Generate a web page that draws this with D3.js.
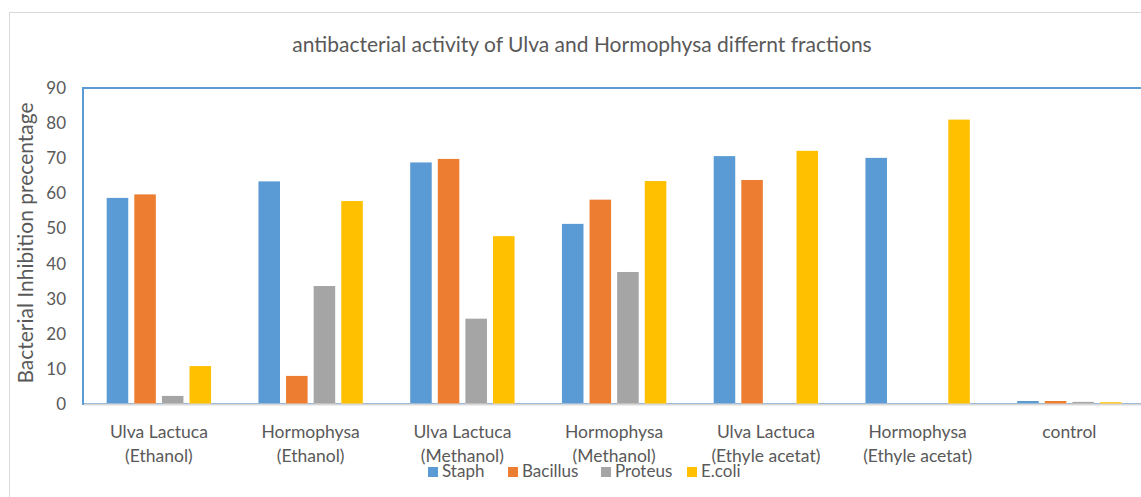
<!DOCTYPE html>
<html>
<head>
<meta charset="utf-8">
<script src="https://cdn.jsdelivr.net/npm/d3@7/dist/d3.min.js"></script>
<style>
  html, body { margin: 0; padding: 0; background: #fff; }
  svg { display: block; font-family: Lato, "Open Sans", sans-serif; }
</style>
</head>
<body>
<svg id="chart" width="1141" height="497"></svg>
<script>
const categories = [
  ["Ulva Lactuca", "(Ethanol)"],
  ["Hormophysa", "(Ethanol)"],
  ["Ulva Lactuca", "(Methanol)"],
  ["Hormophysa", "(Methanol)"],
  ["Ulva Lactuca", "(Ethyle acetat)"],
  ["Hormophysa", "(Ethyle acetat)"],
  ["control"]
];
const seriesNames = ["Staph", "Bacillus", "Proteus", "E.coli"];
const staph    = [58.7, 63.4, 68.8, 51.3, 70.6, 70.1, 0.85];
const bacillus = [59.7, 8.0, 69.8, 58.2, 63.8, 0, 0.85];
const proteus  = [2.3, 33.6, 24.3, 37.6, 0, 0, 0.6];
const ecoli    = [10.8, 57.8, 47.8, 63.5, 72.1, 81.0, 0.5];
const yTicks = [0, 10, 20, 30, 40, 50, 60, 70, 80, 90];
const colors = ["#5B9BD5", "#ED7D31", "#A5A5A5", "#FFC000"];
const titleText = "antibacterial activity of Ulva and Hormophysa differnt fractions";
const yTitle = "Bacterial Inhibition precentage";

const seriesValues = [staph, bacillus, proteus, ecoli];
const textColor = "#595959";
const svg = d3.select("#chart");

// outer chart border
svg.append("rect").attr("x", 9.5).attr("y", 12.5).attr("width", 1200).attr("height", 600)
  .attr("fill", "none").attr("stroke", "#d9d9d9").attr("stroke-width", 1);

const pLeft = 83, step = 151.75, pTop = 88, pBottom = 404;
const catIdx = categories.map((d, i) => i);
const x = d3.scaleBand().domain(catIdx).range([pLeft, pLeft + step * categories.length]).padding(0);
const groupPad = 23.7;
const x1 = d3.scaleBand().domain(seriesNames).range([groupPad, step - groupPad]).paddingInner(0.22).paddingOuter(0);
const y = d3.scaleLinear().domain([0, 90]).range([pBottom, pTop]);

// plot area border (blue)
svg.append("rect").attr("x", pLeft).attr("y", pTop).attr("width", step * categories.length).attr("height", pBottom - pTop)
  .attr("fill", "none").attr("stroke", "#5B9BD5").attr("stroke-width", 2);

// bars
seriesNames.forEach((s, si) => {
  svg.append("g").selectAll("rect").data(seriesValues[si]).join("rect")
    .attr("x", (d, i) => x(i) + x1(s))
    .attr("width", x1.bandwidth())
    .attr("y", d => y(d))
    .attr("height", d => pBottom - y(d))
    .attr("fill", colors[si]);
});

// x axis baseline
svg.append("line").attr("x1", pLeft + 1).attr("x2", pLeft + step * categories.length)
  .attr("y1", pBottom + 0.5).attr("y2", pBottom + 0.5).attr("stroke", "#d9d9d9").attr("stroke-width", 2);

// y axis
const yAxis = d3.axisLeft(y).tickValues(yTicks).tickSize(0).tickPadding(0);
const gy = svg.append("g").attr("transform", `translate(66,0)`).call(yAxis);
gy.select(".domain").remove();
gy.selectAll("text").attr("fill", textColor).style("font-size", "17px").style("font-family", "Lato, sans-serif");

// category labels
const xAxis = d3.axisBottom(x).tickSize(0).tickFormat(() => "");
const gx = svg.append("g").attr("transform", `translate(0,${pBottom})`).call(xAxis);
gx.select(".domain").remove();
gx.selectAll(".tick").each(function(d) {
  const t = d3.select(this).append("text").attr("fill", textColor)
    .attr("text-anchor", "middle").style("font-size", "17.5px").style("font-family", "Lato, sans-serif");
  categories[d].forEach((line, li) => {
    t.append("tspan").attr("x", 0).attr("y", 34 + li * 24).text(line);
  });
});

// title
svg.append("text").attr("x", 582).attr("y", 52).attr("text-anchor", "middle")
  .attr("fill", textColor).style("font-size", "21px").text(titleText);

// y title
svg.append("text").attr("transform", `translate(33,243) rotate(-90)`).attr("text-anchor", "middle")
  .attr("fill", textColor).style("font-size", "21px").text(yTitle);

// legend
const legendX = [428, 508, 601, 687];
const lg = svg.append("g");
seriesNames.forEach((s, i) => {
  lg.append("rect").attr("x", legendX[i]).attr("y", 467).attr("width", 10).attr("height", 10).attr("fill", colors[i]);
  lg.append("text").attr("x", legendX[i] + 14).attr("y", 477).attr("fill", textColor)
    .style("font-size", "17px").text(s);
});
</script>
</body>
</html>
